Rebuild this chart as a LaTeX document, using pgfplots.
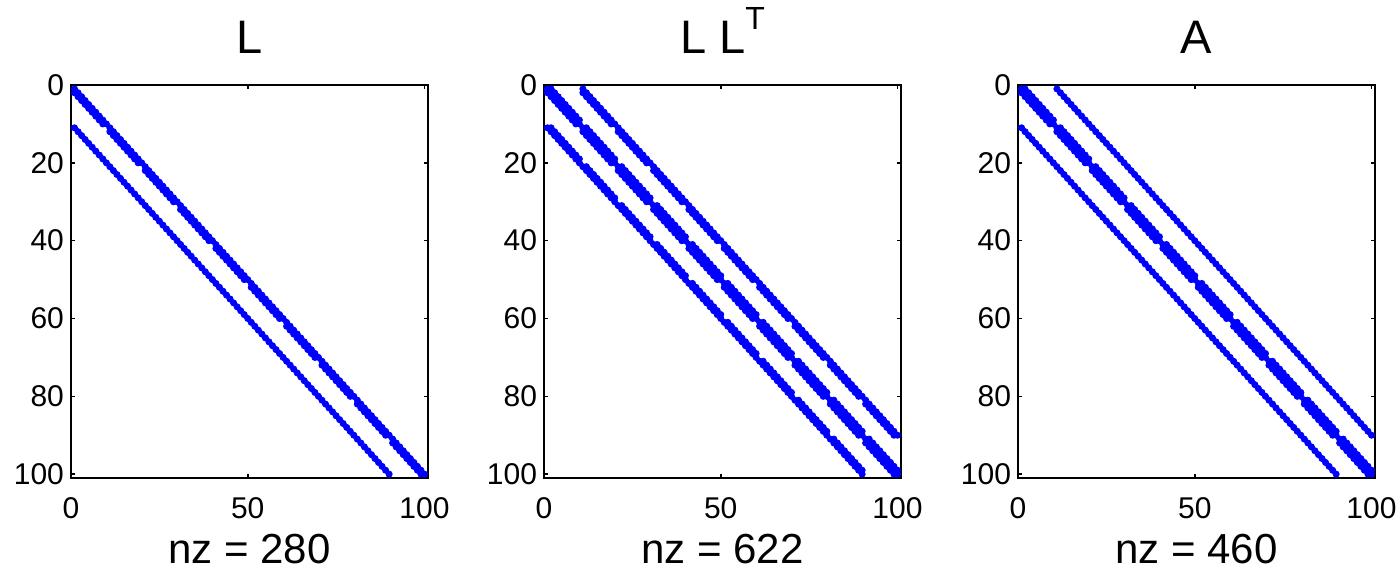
\documentclass[border=0pt]{standalone}
\usepackage{pgfplots}
\usepackage{pgfplotstable}
\pgfplotsset{compat=1.18}
\usepackage{fontspec}
\setmainfont{Liberation Sans}

% diagonal (c = column, r = row)
\pgfplotstableread[row sep=\\]{
c r\\
1 1\\2 2\\3 3\\4 4\\5 5\\6 6\\7 7\\8 8\\9 9\\10 10\\
11 11\\12 12\\13 13\\14 14\\15 15\\16 16\\17 17\\18 18\\19 19\\20 20\\
21 21\\22 22\\23 23\\24 24\\25 25\\26 26\\27 27\\28 28\\29 29\\30 30\\
31 31\\32 32\\33 33\\34 34\\35 35\\36 36\\37 37\\38 38\\39 39\\40 40\\
41 41\\42 42\\43 43\\44 44\\45 45\\46 46\\47 47\\48 48\\49 49\\50 50\\
51 51\\52 52\\53 53\\54 54\\55 55\\56 56\\57 57\\58 58\\59 59\\60 60\\
61 61\\62 62\\63 63\\64 64\\65 65\\66 66\\67 67\\68 68\\69 69\\70 70\\
71 71\\72 72\\73 73\\74 74\\75 75\\76 76\\77 77\\78 78\\79 79\\80 80\\
81 81\\82 82\\83 83\\84 84\\85 85\\86 86\\87 87\\88 88\\89 89\\90 90\\
91 91\\92 92\\93 93\\94 94\\95 95\\96 96\\97 97\\98 98\\99 99\\100 100\\
}\tD

% first subdiagonal (row = col+1), gaps at block ends
\pgfplotstableread[row sep=\\]{
c r\\
1 2\\2 3\\3 4\\4 5\\5 6\\6 7\\7 8\\8 9\\9 10\\
11 12\\12 13\\13 14\\14 15\\15 16\\16 17\\17 18\\18 19\\19 20\\
21 22\\22 23\\23 24\\24 25\\25 26\\26 27\\27 28\\28 29\\29 30\\
31 32\\32 33\\33 34\\34 35\\35 36\\36 37\\37 38\\38 39\\39 40\\
41 42\\42 43\\43 44\\44 45\\45 46\\46 47\\47 48\\48 49\\49 50\\
51 52\\52 53\\53 54\\54 55\\55 56\\56 57\\57 58\\58 59\\59 60\\
61 62\\62 63\\63 64\\64 65\\65 66\\66 67\\67 68\\68 69\\69 70\\
71 72\\72 73\\73 74\\74 75\\75 76\\76 77\\77 78\\78 79\\79 80\\
81 82\\82 83\\83 84\\84 85\\85 86\\86 87\\87 88\\88 89\\89 90\\
91 92\\92 93\\93 94\\94 95\\95 96\\96 97\\97 98\\98 99\\99 100\\
}\tSa

% tenth subdiagonal (row = col+10)
\pgfplotstableread[row sep=\\]{
c r\\
1 11\\2 12\\3 13\\4 14\\5 15\\6 16\\7 17\\8 18\\9 19\\10 20\\
11 21\\12 22\\13 23\\14 24\\15 25\\16 26\\17 27\\18 28\\19 29\\20 30\\
21 31\\22 32\\23 33\\24 34\\25 35\\26 36\\27 37\\28 38\\29 39\\30 40\\
31 41\\32 42\\33 43\\34 44\\35 45\\36 46\\37 47\\38 48\\39 49\\40 50\\
41 51\\42 52\\43 53\\44 54\\45 55\\46 56\\47 57\\48 58\\49 59\\50 60\\
51 61\\52 62\\53 63\\54 64\\55 65\\56 66\\57 67\\58 68\\59 69\\60 70\\
61 71\\62 72\\63 73\\64 74\\65 75\\66 76\\67 77\\68 78\\69 79\\70 80\\
71 81\\72 82\\73 83\\74 84\\75 85\\76 86\\77 87\\78 88\\79 89\\80 90\\
81 91\\82 92\\83 93\\84 94\\85 95\\86 96\\87 97\\88 98\\89 99\\90 100\\
}\tSb

% fill-in ninth subdiagonal of L L^T (row = col+9)
\pgfplotstableread[row sep=\\]{
c r\\
2 11\\3 12\\4 13\\5 14\\6 15\\7 16\\8 17\\9 18\\10 19\\
12 21\\13 22\\14 23\\15 24\\16 25\\17 26\\18 27\\19 28\\20 29\\
22 31\\23 32\\24 33\\25 34\\26 35\\27 36\\28 37\\29 38\\30 39\\
32 41\\33 42\\34 43\\35 44\\36 45\\37 46\\38 47\\39 48\\40 49\\
42 51\\43 52\\44 53\\45 54\\46 55\\47 56\\48 57\\49 58\\50 59\\
52 61\\53 62\\54 63\\55 64\\56 65\\57 66\\58 67\\59 68\\60 69\\
62 71\\63 72\\64 73\\65 74\\66 75\\67 76\\68 77\\69 78\\70 79\\
72 81\\73 82\\74 83\\75 84\\76 85\\77 86\\78 87\\79 88\\80 89\\
82 91\\83 92\\84 93\\85 94\\86 95\\87 96\\88 97\\89 98\\90 99\\
}\tSc

\pgfplotsset{
  spy/.style={
    scale only axis, width=178.5pt, height=196.5pt,
    anchor=south west,
    xmin=0, xmax=101, ymin=0, ymax=101, y dir=reverse,
    xtick={0,50,100}, ytick={0,20,40,60,80,100},
    tick align=inside, major tick length=2pt,
    axis line style={line width=0.9pt},
    every tick/.style={black, line width=0.8pt},
    /pgf/number format/assume math mode=true,
    tick label style={font=\fontsize{15}{18}\selectfont},
    xticklabel style={yshift=-6pt},
    title style={font=\fontsize{23.5}{28}\selectfont, at={(0.5,1)}, anchor=base, yshift=10pt},
    xlabel style={font=\fontsize{21}{25}\selectfont, at={(0.5,0)}, anchor=base, yshift=-42.5pt},
    clip=false,
  },
  dots/.style={only marks, mark=*, mark size=1.55pt, color=blue, mark options={draw=blue, fill=blue}},
}

\begin{document}
\begin{tikzpicture}
\useasboundingbox (0,0) rectangle (700pt,284.5pt);

\begin{axis}[spy, at={(35.5pt,45.5pt)}, title={L}, xlabel={nz = 280}]
\addplot[dots] table[x=c,y=r] {\tD};
\addplot[dots] table[x=c,y=r] {\tSa};
\addplot[dots] table[x=c,y=r] {\tSb};
\end{axis}

\begin{axis}[spy, at={(272pt,45.5pt)}, title={L L\raisebox{12pt}{\fontsize{16}{19}\selectfont T}}, xlabel={nz = 622}]
\addplot[dots] table[x=c,y=r] {\tD};
\addplot[dots] table[x=c,y=r] {\tSa};
\addplot[dots] table[x=r,y=c] {\tSa};
\addplot[dots] table[x=c,y=r] {\tSb};
\addplot[dots] table[x=r,y=c] {\tSb};
\addplot[dots] table[x=c,y=r] {\tSc};
\addplot[dots] table[x=r,y=c] {\tSc};
\end{axis}

\begin{axis}[spy, at={(509pt,45.5pt)}, title={A}, xlabel={nz = 460}]
\addplot[dots] table[x=c,y=r] {\tD};
\addplot[dots] table[x=c,y=r] {\tSa};
\addplot[dots] table[x=r,y=c] {\tSa};
\addplot[dots] table[x=c,y=r] {\tSb};
\addplot[dots] table[x=r,y=c] {\tSb};
\end{axis}
\end{tikzpicture}
\end{document}
